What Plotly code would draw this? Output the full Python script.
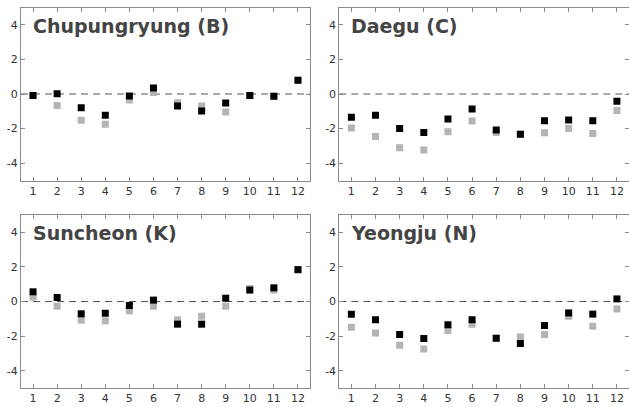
import plotly.graph_objects as go
from plotly.subplots import make_subplots

months = list(range(1, 13))
month_labels = [str(m) for m in months]
y_ticks = [-4, -2, 0, 2, 4]
y_tick_labels = ["-4", "-2", "0", "2", "4"]

stations = ["Chupungryung (B)", "Daegu (C)", "Suncheon (K)", "Yeongju (N)"]

# black squares
chupungryung_black = [-0.08, 0.02, -0.79, -1.23, -0.12, 0.35, -0.69, -0.98, -0.52, -0.08, -0.13, 0.79]
daegu_black = [-1.35, -1.23, -2.00, -2.22, -1.45, -0.87, -2.08, -2.33, -1.54, -1.50, -1.54, -0.42]
suncheon_black = [0.56, 0.23, -0.71, -0.68, -0.23, 0.08, -1.31, -1.31, 0.19, 0.66, 0.79, 1.84]
yeongju_black = [-0.73, -1.06, -1.91, -2.14, -1.35, -1.06, -2.12, -2.43, -1.39, -0.66, -0.73, 0.15]

# gray squares
chupungryung_gray = [-0.08, -0.67, -1.52, -1.75, -0.35, 0.08, -0.50, -0.69, -1.04, -0.08, -0.13, 0.79]
daegu_gray = [-1.97, -2.45, -3.10, -3.24, -2.18, -1.56, -2.22, -2.33, -2.24, -2.00, -2.29, -0.96]
suncheon_gray = [0.25, -0.27, -1.08, -1.12, -0.54, -0.27, -1.06, -0.85, -0.27, 0.75, 0.66, 1.84]
yeongju_gray = [-1.49, -1.82, -2.53, -2.74, -1.68, -1.31, -2.12, -2.05, -1.91, -0.85, -1.43, -0.43]

black_series = [chupungryung_black, daegu_black, suncheon_black, yeongju_black]
gray_series = [chupungryung_gray, daegu_gray, suncheon_gray, yeongju_gray]

W, H = 629, 407
x_domains = [[21 / W, 310 / W], [339.3 / W, 1.0]]
y_domains = [[1 - 180.5 / H, 1 - 7.5 / H], [1 - 388 / H, 1 - 215 / H]]

fig = make_subplots(rows=2, cols=2)

axis_color = "#8a8a8a"
tick_font = dict(family="DejaVu Sans", size=11, color="#333333")

for i, name in enumerate(stations):
    r, c = i // 2 + 1, i % 2 + 1
    fig.add_trace(go.Scatter(
        x=months, y=gray_series[i], mode="markers",
        marker=dict(symbol="square", size=7, color="#b4b4b4", line=dict(width=0)),
        showlegend=False, hoverinfo="skip"), row=r, col=c)
    fig.add_trace(go.Scatter(
        x=months, y=black_series[i], mode="markers",
        marker=dict(symbol="square", size=7, color="#000000", line=dict(width=0)),
        showlegend=False, hoverinfo="skip"), row=r, col=c)
    fig.add_hline(y=0, row=r, col=c, line=dict(color="#555555", width=1, dash="7px,5px"), layer="below")
    fig.update_xaxes(range=[0.5, 12.5], tickvals=months, ticktext=month_labels,
                     domain=x_domains[c - 1], row=r, col=c)
    fig.update_yaxes(range=[-5, 5], tickvals=y_ticks, ticktext=y_tick_labels,
                     domain=y_domains[r - 1], row=r, col=c)
    idx = "" if i == 0 else str(i + 1)
    fig.add_annotation(text="<b>" + name + "</b>", xref=f"x{idx} domain", yref=f"y{idx}",
                       x=0.035, y=3.95, xanchor="left", yanchor="middle", showarrow=False,
                       font=dict(family="DejaVu Sans", size=19, color="#444444"))

fig.update_xaxes(showline=True, linecolor=axis_color, linewidth=1, mirror="ticks",
                 ticks="inside", ticklen=4, tickcolor=axis_color, showgrid=False,
                 zeroline=False, tickfont=tick_font)
fig.update_yaxes(showline=True, linecolor=axis_color, linewidth=1, mirror="ticks",
                 ticks="inside", ticklen=4, tickcolor=axis_color, showgrid=False,
                 zeroline=False, tickfont=tick_font)

fig.update_layout(width=W, height=H, margin=dict(l=0, r=0, t=0, b=0),
                  plot_bgcolor="white", paper_bgcolor="white")

fig.write_html("out.html", config={"displayModeBar": False},
               post_script="document.body.style.margin='0';document.body.style.overflow='hidden';")
